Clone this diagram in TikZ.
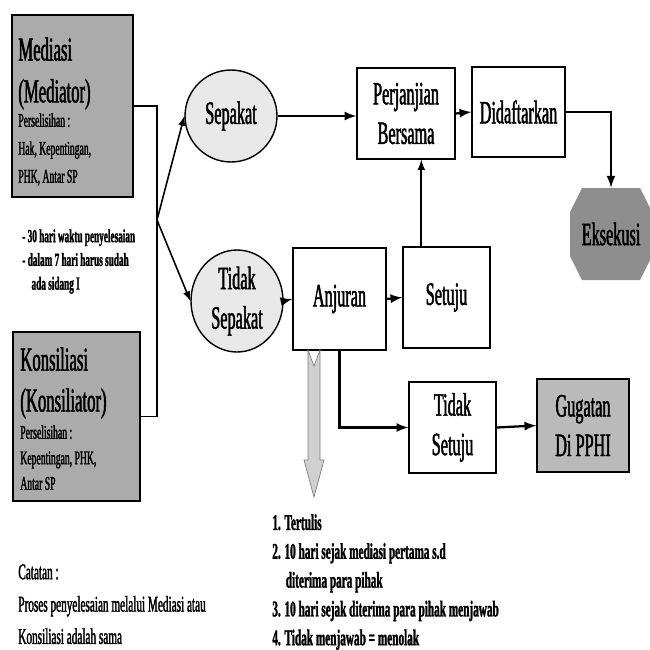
\documentclass[tikz,border=0pt]{standalone}
\usepackage{fontspec}
\setmainfont[FakeStretch=0.5,UprightFeatures={FakeBold=1.5}]{Liberation Serif}
\newfontfamily\boldnarrow[FakeStretch=0.5,BoldFeatures={FakeBold=1.3}]{Liberation Serif}
\usetikzlibrary{shapes.geometric,calc}
\definecolor{boxgrey}{HTML}{ABABAB}
\definecolor{darkgrey}{HTML}{8E8E8E}
\definecolor{midgrey}{HTML}{BABABA}
\definecolor{lightgrey}{HTML}{E8E8E8}
\definecolor{arrowgrey}{HTML}{D0D0D0}

\begin{document}
\begin{tikzpicture}[x=0.02cm,y=-0.02cm,
    box/.style={draw,line width=0.8pt,align=center,inner sep=0,
        font=\fontsize{18.5}{22.5}\selectfont},
    oval/.style={box,ellipse,fill=lightgrey},
    flow/.style={line width=1.3pt,-latex},
    note/.style={anchor=north west,align=left,inner sep=0}]
    \useasboundingbox (0,0) rectangle (650,650);

    \node[box,fill=boxgrey,minimum width=2.42cm,minimum height=3.64cm] (mediasi) at (72.5,106) {};
    \node[note,font=\fontsize{19}{23.8}\selectfont] (mediasititle) at (18,37) {Mediasi\\(Mediator)};
    \node[note,font=\fontsize{11}{15.9}\selectfont] (mediasinote) at (18,113) {Perselisihan :\\Hak, Kepentingan,\\PHK, Antar SP};

    \node[box,fill=boxgrey,minimum width=2.54cm,minimum height=3.38cm] (konsiliasi) at (76.5,416.5) {};
    \node[note,font=\fontsize{19}{23.3}\selectfont] (konsiliasititle) at (20,347) {Konsiliasi\\(Konsiliator)};
    \node[note,font=\fontsize{11}{14.5}\selectfont] (konsiliasinote) at (20,425) {Perselisihan :\\Kepentingan, PHK,\\Antar SP};

    \node[note,font=\boldnarrow\bfseries\fontsize{10.5}{13.5}\selectfont] (waktu) at (22,229) {- 30 hari waktu penyelesaian\\- dalam 7 hari harus sudah\\\hspace*{0.5em}ada sidang I};

    \node[oval,minimum width=1.84cm,minimum height=1.84cm] (sepakat) at (231,116) {Sepakat};
    \node[oval,minimum width=1.84cm,minimum height=2.04cm] (tidaksepakat) at (237,301) {Tidak\\Sepakat};

    \node[box,minimum width=1.96cm,minimum height=1.82cm] (perjanjian) at (406,113.5) {Perjanjian\\Bersama};
    \node[box,minimum width=1.86cm,minimum height=1.80cm] (didaftarkan) at (518.5,112) {Didaftarkan};

    \fill[darkgrey] (582,188) -- (640,188) -- (652,212) -- (652,256) -- (640,280)
        -- (582,280) -- (570,256) -- (570,212) -- cycle;
    \node[font=\fontsize{18.5}{22.5}\selectfont,minimum width=1.64cm,minimum height=1.84cm,inner sep=0] (eksekusi) at (611,234) {Eksekusi};

    \node[box,minimum width=1.86cm,minimum height=2.04cm] (anjuran) at (339.5,299) {Anjuran};
    \node[box,minimum width=1.74cm,minimum height=2.02cm] (setuju) at (446.5,297.5) {Setuju};
    \node[box,minimum width=1.74cm,minimum height=1.82cm] (tidaksetuju) at (452.5,427.5) {Tidak\\Setuju};
    \node[box,fill=midgrey,minimum width=1.84cm,minimum height=1.86cm] (gugatan) at (583,425.5) {Gugatan\\Di PPHI};

    \coordinate (cabang) at (157,220);
    \draw[line width=0.9pt] (mediasi.east) -| (cabang) |- (konsiliasi.east);
    \draw[line width=0.9pt,-latex] (cabang) -- (sepakat.west);
    \draw[line width=0.9pt,-latex] (cabang) -- (tidaksepakat.west);

    \draw[flow] (sepakat.east) -- (perjanjian.west |- sepakat.east);
    \draw[flow] (perjanjian.east) -- (didaftarkan.west);
    \draw[flow] (didaftarkan.east) -| (eksekusi.north);
    \draw[flow] (tidaksepakat.east) -- (anjuran.west);
    \draw[flow] (anjuran.east) -- (setuju.west);
    \coordinate (naik) at ($(setuju.north west)+(19,0)$);
    \draw[line width=1pt,-latex] (naik) -- (naik |- perjanjian.south);
    \draw[flow] (anjuran.south) |- (tidaksetuju.west);
    \draw[flow] (tidaksetuju.east) -- (gugatan.west);

    \draw[fill=arrowgrey,draw=gray] (308,350) -- (314,366) -- (320,350) -- (320,460) -- (324,460)
        -- (314,497) -- (304,460) -- (308,460) -- cycle;

    \node[note,font=\boldnarrow\bfseries\fontsize{12.8}{16.4}\selectfont] (syarat) at (272,514) {1. Tertulis\\2. 10 hari sejak mediasi pertama s.d\\\hspace*{0.6em}diterima para pihak\\3. 10 hari sejak diterima para pihak menjawab\\4. Tidak menjawab = menolak};
    \node[note,font=\fontsize{12.8}{18.4}\selectfont] (catatan) at (18,564) {Catatan :\\Proses penyelesaian melalui Mediasi atau\\Konsiliasi adalah sama};
\end{tikzpicture}
\end{document}
